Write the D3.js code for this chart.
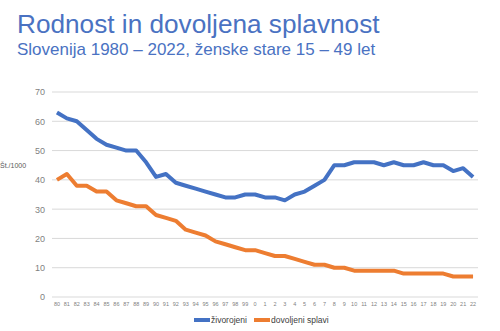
<!DOCTYPE html>
<html><head><meta charset="utf-8">
<script src="https://cdn.jsdelivr.net/npm/d3@7"></script>
<style>body{margin:0;background:#fff}svg{display:block;font-family:"Liberation Sans",Arial,sans-serif}</style>
</head><body><svg id="c" width="500" height="331"></svg>
<script>
const years = ["80","81","82","83","84","85","86","87","88","89","90","91","92","93","94","95","96","97","98","99","0","1","2","3","4","5","6","7","8","9","10","11","12","13","14","15","16","17","18","19","20","21","22"];
const zivorojeni = [63,61,60,57,54,52,51,50,50,46,41,42,39,38,37,36,35,34,34,35,35,34,34,33,35,36,38,40,45,45,46,46,46,45,46,45,45,46,45,45,43,44,41];
const splavi = [40,42,38,38,36,36,33,32,31,31,28,27,26,23,22,21,19,18,17,16,16,15,14,14,13,12,11,11,10,10,9,9,9,9,9,8,8,8,8,8,7,7,7];
const yTicks = [0,10,20,30,40,50,60,70];
const seriesNames = ["živorojeni","dovoljeni splavi"];
const colors = ["#4472C4","#ED7D31"];

const svg = d3.select("#c");
svg.append("text").attr("x",17).attr("y",33).attr("font-size",26.2).attr("fill","#4A72C2").text("Rodnost in dovoljena splavnost");
svg.append("text").attr("x",17).attr("y",55).attr("font-size",17).attr("fill","#4A72C2").text("Slovenija 1980 – 2022, ženske stare 15 – 49 let");

const x = d3.scaleBand().domain(years).range([52,478]);
const y = d3.scaleLinear().domain([0,70]).range([297,92]);

const g = svg.append("g");
g.selectAll("line.grid").data(yTicks).join("line").attr("class","grid")
  .attr("x1",52).attr("x2",478).attr("y1",d=>y(d)).attr("y2",d=>y(d))
  .attr("stroke","#D9D9D9").attr("stroke-width",1);

const yAxis = svg.append("g").attr("transform","translate(52,0)")
  .call(d3.axisLeft(y).tickValues(yTicks).tickSize(0).tickPadding(7));
yAxis.select(".domain").remove();
yAxis.selectAll("text").attr("font-size",9).attr("fill","#7F7F7F").attr("font-family","Liberation Sans, Arial, sans-serif");

const xAxis = svg.append("g").attr("transform","translate(0,297)")
  .call(d3.axisBottom(x).tickSize(0).tickPadding(5));
xAxis.select(".domain").remove();
xAxis.selectAll("text").attr("font-size",5.5).attr("fill","#7F7F7F").attr("font-family","Liberation Sans, Arial, sans-serif");

svg.append("text").attr("x",0).attr("y",168).attr("font-size",7).attr("fill","#595959").text("Št./1000");

const line = d3.line().x((d,i)=>x(years[i])+x.bandwidth()/2).y(d=>y(d));
[zivorojeni, splavi].forEach((s,i)=>{
  svg.append("path").datum(s).attr("d",line).attr("fill","none")
    .attr("stroke",colors[i]).attr("stroke-width",4).attr("stroke-linejoin","round");
});

const leg = svg.append("g");
const legX = [194,254];
seriesNames.forEach((n,i)=>{
  leg.append("line").attr("x1",legX[i]).attr("x2",legX[i]+16).attr("y1",320).attr("y2",320)
    .attr("stroke",colors[i]).attr("stroke-width",4);
  leg.append("text").attr("x",legX[i]+17).attr("y",323).attr("font-size",8.5).attr("fill","#404040").text(n);
});
</script></body></html>
